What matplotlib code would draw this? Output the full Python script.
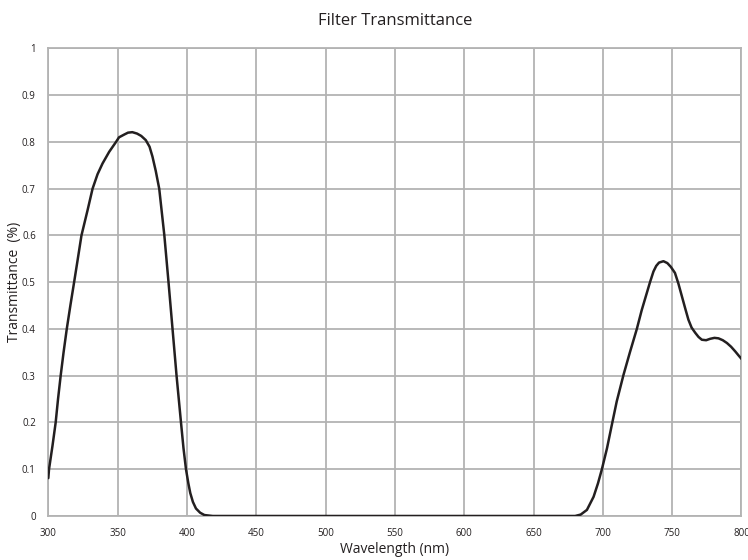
# Filter transmittance curve
import matplotlib.pyplot as plt

wavelength = [300, 300.5, 303, 305.3, 307, 308.9, 311, 313.3, 316, 318.6, 321,
              323.9, 328.3, 331.9, 335.5, 339.1, 343.9, 348.8, 351, 354.8,
              357.5, 360.6, 364, 367, 370.3, 373, 375.1, 377.5, 380, 383.7,
              386.7, 389.6, 392.5, 395.7, 397.5, 399.3, 401, 402.4, 404.3,
              406.5, 409.5, 412.6, 418.6, 450, 500, 550, 600, 650, 680, 684,
              688.5, 693.3, 696.5, 699.3, 703, 706.2, 710, 714.9, 719.5, 724.5,
              728, 731.7, 734, 736.5, 738.5, 740.5, 743.7, 746.5, 749, 752,
              754.5, 757, 759.5, 761.7, 764, 766.6, 769, 771.4, 774.5, 777.4,
              780.5, 783.4, 786.5, 789.5, 792.5, 795.5, 798, 800]
transmittance = [0.081, 0.10, 0.15, 0.20, 0.25, 0.30, 0.35, 0.40, 0.452, 0.50,
                 0.545, 0.60, 0.654, 0.70, 0.731, 0.754, 0.779, 0.80, 0.81,
                 0.816, 0.82, 0.821, 0.818, 0.813, 0.804, 0.79, 0.769, 0.738,
                 0.70, 0.60, 0.50, 0.40, 0.30, 0.20, 0.145, 0.10, 0.07, 0.049,
                 0.03, 0.016, 0.007, 0.002, 0, 0, 0, 0, 0, 0, 0, 0.003, 0.013,
                 0.041, 0.07, 0.10, 0.145, 0.191, 0.245, 0.302, 0.35, 0.40,
                 0.44, 0.477, 0.50, 0.523, 0.535, 0.542, 0.545, 0.541, 0.533,
                 0.52, 0.497, 0.47, 0.443, 0.42, 0.403, 0.392, 0.383, 0.377,
                 0.376, 0.379, 0.381, 0.38, 0.376, 0.37, 0.362, 0.352, 0.343,
                 0.336]

x_ticks = [300, 350, 400, 450, 500, 550, 600, 650, 700, 750, 800]
y_ticks = [0, 0.1, 0.2, 0.3, 0.4, 0.5, 0.6, 0.7, 0.8, 0.9, 1]
y_labels = ["0", "0.1", "0.2", "0.3", "0.4", "0.5", "0.6", "0.7", "0.8", "0.9", "1"]

plt.rcParams['font.family'] = ['Open Sans', 'DejaVu Sans']

fig = plt.figure(figsize=(7.48, 5.6), dpi=100)
ax = fig.add_axes([0.0646, 0.0786, 0.9267, 0.8348])

ax.plot(wavelength, transmittance, color="#231f20", linewidth=1.8,
        solid_joinstyle="round", solid_capstyle="round", zorder=3)

ax.set_xlim(300, 800)
ax.set_ylim(0, 1)
ax.set_xticks(x_ticks)
ax.set_yticks(y_ticks)
ax.set_yticklabels(y_labels)
ax.grid(True, color="#b3b3b3", linewidth=1.3)
ax.set_axisbelow(True)
for s in ax.spines.values():
    s.set_color("#b3b3b3")
    s.set_linewidth(1.3)
ax.tick_params(axis="x", length=0, labelsize=7, colors="#231f20", pad=9)
ax.tick_params(axis="y", length=0, labelsize=7, colors="#231f20", pad=9)

ax.set_title("Filter Transmittance", fontsize=12, color="#231f20", pad=17)
ax.set_xlabel("Wavelength (nm)", fontsize=10, color="#231f20", labelpad=2)
ax.set_ylabel("Transmittance  (%)", fontsize=10, color="#231f20", labelpad=0)

plt.savefig("out.png", dpi=100)
